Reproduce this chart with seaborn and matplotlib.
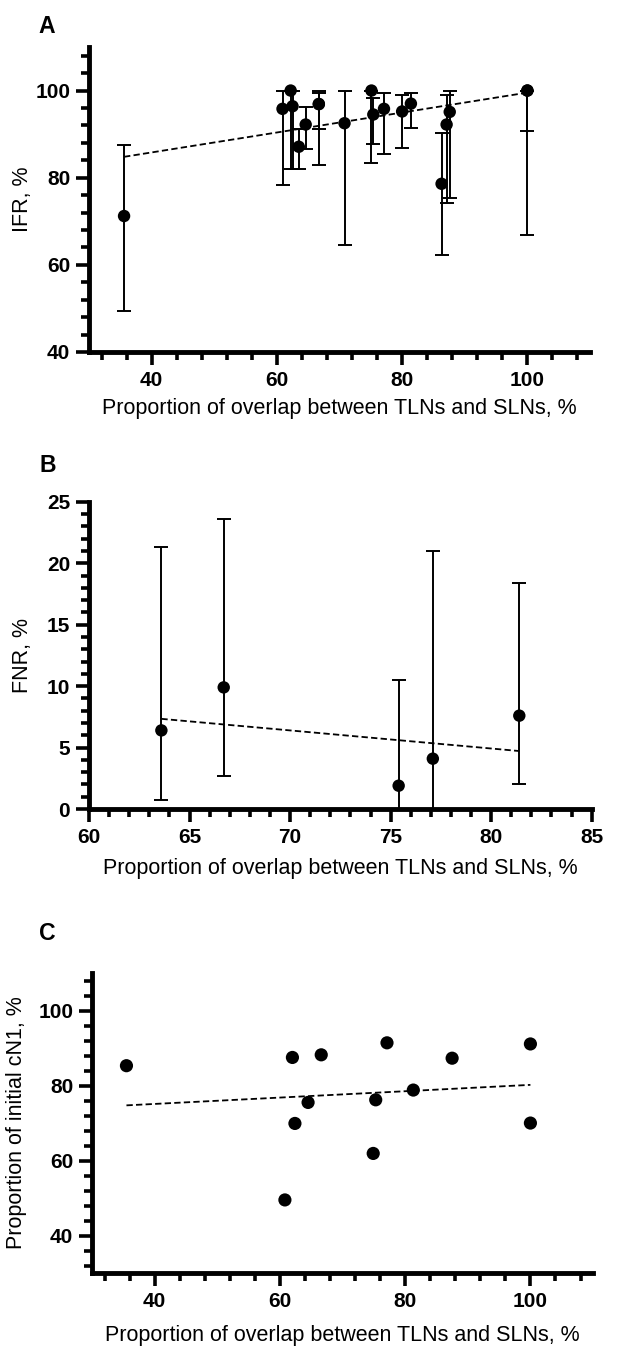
import numpy as np
import pandas as pd
import seaborn as sns
import matplotlib.pyplot as plt
from matplotlib.ticker import MultipleLocator

sns.set_style("ticks", {"axes.edgecolor": "black", "xtick.color": "black",
                        "ytick.color": "black", "text.color": "black",
                        "axes.labelcolor": "black"})
plt.rcParams["font.family"] = ["Liberation Sans", "DejaVu Sans"]

# panel A: IFR vs overlap (two studies share x=66.7 and two share x=100)
ifr_overlap = [35.6, 60.9, 62.2, 62.5, 63.5, 64.6, 66.7, 66.7, 70.8, 75.1,
               75.4, 77.1, 80.0, 81.4, 86.3, 87.1, 87.6, 100, 100]
ifr = [71.2, 95.8, 100, 96.4, 87.1, 92.2, 96.9, 96.9, 92.5, 100,
       94.5, 95.8, 95.2, 97.0, 78.6, 92.2, 95.1, 100, 100]
ifr_lo = [49.5, 78.3, 82.0, 82.0, 82.0, 86.6, 83.0, 91.1, 64.5, 83.4,
          87.7, 85.4, 86.9, 91.5, 62.3, 74.3, 75.4, 90.6, 66.8]
ifr_hi = [87.5, 99.8, 100, 100, 91.2, 96.2, 99.4, 99.9, 99.8, 100,
          98.3, 99.4, 99.0, 99.4, 90.3, 99.0, 99.9, 100, 100]

# panel B: FNR vs overlap
fnr_overlap = [63.6, 66.7, 75.4, 77.1, 81.4]
fnr = [6.4, 9.9, 1.9, 4.1, 7.6]
fnr_lo = [0.7, 2.7, 0.0, 0.0, 2.0]
fnr_hi = [21.3, 23.6, 10.5, 21.0, 18.4]

# panel C: proportion of initial cN1 vs overlap
cn1_overlap = [35.5, 60.8, 62.0, 62.4, 64.5, 66.6, 74.9, 75.3, 77.1, 81.3, 87.5, 100, 100]
cn1 = [85.3, 49.5, 87.5, 69.9, 75.5, 88.2, 61.9, 76.2, 91.4, 78.8, 87.3, 91.1, 70.0]

xlab = "Proportion of overlap between TLNs and SLNs, %"

fig = plt.figure(figsize=(6.43, 13.5), dpi=100)
axA = fig.add_axes([0.1384, 0.7393, 0.7792, 0.2259])
axB = fig.add_axes([0.1384, 0.4007, 0.7818, 0.2276])
axC = fig.add_axes([0.1431, 0.0570, 0.7792, 0.2222])


def style(ax, xlim, ylim, xmaj, xmin, ymaj, ymin, ylab, ylab_x, xlab_y):
    ax.set_xlim(*xlim)
    ax.set_ylim(*ylim)
    ax.xaxis.set_major_locator(MultipleLocator(xmaj))
    ax.xaxis.set_minor_locator(MultipleLocator(xmin))
    ax.yaxis.set_major_locator(MultipleLocator(ymaj))
    ax.yaxis.set_minor_locator(MultipleLocator(ymin))
    sns.despine(ax=ax)
    for s in ["left", "bottom"]:
        ax.spines[s].set_linewidth(3.5)
        ax.spines[s].set_color("black")
    ax.tick_params(which="major", length=9.5, width=2.6, pad=4, labelsize=15,
                   color="black", labelcolor="black")
    ax.tick_params(which="minor", length=6, width=2.6, color="black")
    for lab in ax.get_xticklabels() + ax.get_yticklabels():
        lab.set_fontweight("bold")
    ax.set_xlabel(xlab, fontsize=15.5, color="black")
    ax.set_ylabel(ylab, fontsize=15.5, color="black")
    ax.yaxis.set_label_coords(ylab_x, 0.5)
    ax.xaxis.set_label_coords(0.5, xlab_y)


def ci_bars(ax, x, y, lo, hi):
    y = np.asarray(y)
    err = [y - np.asarray(lo), np.asarray(hi) - y]
    ax.errorbar(x, y, yerr=err, fmt="none", ecolor="black", elinewidth=1.4,
                capsize=4.7, capthick=1.4, zorder=2)


dash = dict(color="black", lw=1.3, ls=(0, (3.5, 1.8)))

# A
dfA = pd.DataFrame({"x": ifr_overlap, "y": ifr})
ci_bars(axA, ifr_overlap, ifr, ifr_lo, ifr_hi)
sns.regplot(data=dfA, x="x", y="y", scatter=False, ci=None, truncate=True,
            line_kws=dash, ax=axA)
sns.scatterplot(data=dfA, x="x", y="y", color="black", s=80, edgecolor="none",
                ax=axA, zorder=3)
style(axA, (30, 110), (40, 110), 20, 4, 20, 4, "IFR, %", -0.112, -0.151)

# B
dfB = pd.DataFrame({"x": fnr_overlap, "y": fnr})
ci_bars(axB, fnr_overlap, fnr, fnr_lo, fnr_hi)
sns.regplot(data=dfB, x="x", y="y", scatter=False, ci=None, truncate=True,
            line_kws=dash, ax=axB)
sns.scatterplot(data=dfB, x="x", y="y", color="black", s=80, edgecolor="none",
                ax=axB, zorder=3)
style(axB, (60, 85), (0, 25), 5, 1, 5, 1, "FNR, %", -0.111, -0.16)

# C
dfC = pd.DataFrame({"x": cn1_overlap, "y": cn1})
sns.regplot(data=dfC, x="x", y="y", scatter=False, ci=None, truncate=True,
            line_kws=dash, ax=axC)
sns.scatterplot(data=dfC, x="x", y="y", color="black", s=90, edgecolor="none",
                ax=axC, zorder=3)
style(axC, (30, 110), (30, 110), 20, 4, 20, 4, "Proportion of initial cN1, %", -0.13, -0.173)

for ax in (axA, axB, axC):
    for sp in ax.spines.values():
        sp.set_zorder(4)

fig.text(0.059, 0.9756, "A", fontsize=16.6, fontweight="bold", va="baseline")
fig.text(0.062, 0.6504, "B", fontsize=16.6, fontweight="bold", va="baseline")
fig.text(0.061, 0.3037, "C", fontsize=16.6, fontweight="bold", va="baseline")

fig.savefig("out.png", dpi=100)
